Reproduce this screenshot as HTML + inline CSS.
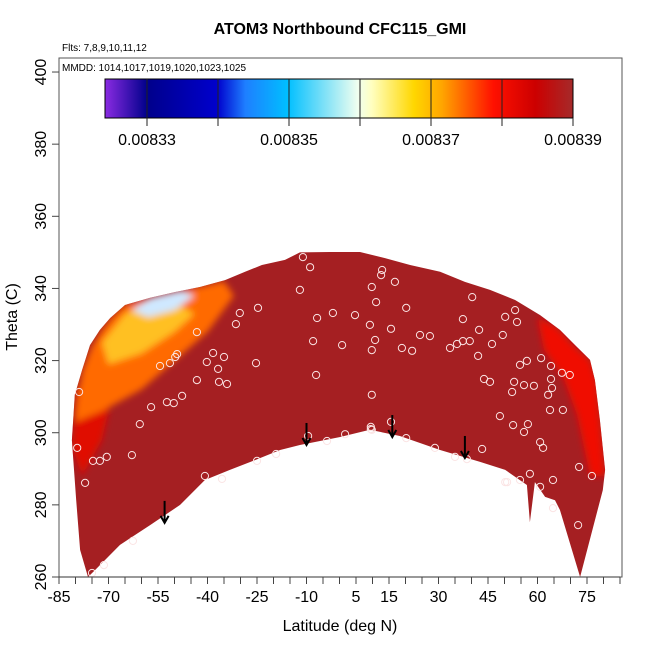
<!DOCTYPE html>
<html><head><meta charset="utf-8">
<style>
html,body{margin:0;padding:0;background:#fff;}
svg{display:block;font-family:"Liberation Sans",Arial,sans-serif;}
</style></head>
<body>
<svg id="chart" width="650" height="650" viewBox="0 0 650 650">
<defs>
<filter id="blur" x="-20%" y="-20%" width="140%" height="140%"><feGaussianBlur stdDeviation="3.5"/></filter>
<clipPath id="fieldClip"><path id="clipPath"/></clipPath>
<linearGradient id="cbGrad" x1="0" x2="1" y1="0" y2="0">
<stop offset="0" stop-color="#8a2be2"/>
<stop offset="0.09" stop-color="#00008b"/>
<stop offset="0.24" stop-color="#0000cd"/>
<stop offset="0.30" stop-color="#1e7fff"/>
<stop offset="0.39" stop-color="#00bfff"/>
<stop offset="0.54" stop-color="#f0fff0"/>
<stop offset="0.57" stop-color="#ffffc0"/>
<stop offset="0.66" stop-color="#ffd700"/>
<stop offset="0.72" stop-color="#ffa500"/>
<stop offset="0.83" stop-color="#ff1000"/>
<stop offset="0.92" stop-color="#cc0000"/>
<stop offset="1" stop-color="#a52a2a"/>
</linearGradient>
</defs>
<text x="340" y="34" text-anchor="middle" font-size="16" font-weight="bold">ATOM3 Northbound CFC115_GMI</text>
<text x="62" y="51" font-size="10">Flts: 7,8,9,10,11,12</text>
<g id="field"></g>
<g id="points"></g>
<g id="arrows"></g>
<rect x="59" y="58" width="563" height="519" fill="none" stroke="#555" stroke-width="1"/>
<text x="62" y="71" font-size="10">MMDD: 1014,1017,1019,1020,1023,1025</text>
<g id="colorbar">
<rect x="105" y="79" width="468" height="39" fill="url(#cbGrad)" stroke="#000" stroke-width="1"/>
</g>
<g id="xaxis"></g>
<g id="yaxis"></g>
<text x="340" y="631" text-anchor="middle" font-size="16">Latitude (deg N)</text>
<text transform="translate(17,317) rotate(-90)" text-anchor="middle" font-size="16">Theta (C)</text>
</svg>
<script>
const xTickLabels=[-85,-70,-55,-40,-25,-10,5,15,30,45,60,75];
const yTickLabels=[260,280,300,320,340,360,380,400];
const cbTickLabels=["0.00833","0.00835","0.00837","0.00839"];
const cbTickValues=[0.00833,0.00835,0.00837,0.00839];
const cbSegValues=[0.00833,0.00834,0.00835,0.00836,0.00837,0.00838];
const outlineLat=[-76.2,-78.6,-79.8,-81.1,-80.2,-78,-75.6,-72.6,-69.5,-65,-57.4,-49.8,-42.3,-34.7,-28.6,-23.5,-16.5,-12,-2.9,6.2,13.8,21.4,30.5,38,45.6,53.2,60.8,66.8,71.4,75.9,77.4,78.9,80.5,79.8,72.9,66.8,65.3,62.3,59.2,57.7,56.8,50.2,42.6,30.5,18.3,9.2,0.2,-12,-18,-25.6,-33.2,-40.8,-48.3,-57.4,-66.5,-74.1];
const outlineTheta=[260,267.5,281.3,297.9,310.5,317.4,324.3,328.5,331.8,335.4,337.4,339,340.4,342.3,344.6,346.5,347.9,350,350.1,350.1,348.4,346.5,344.6,341.8,339.6,336.8,332.6,328.5,324.3,320.2,314.6,303.5,289.7,284.1,260,278.6,281.3,282.2,286.3,275.2,285.5,289.7,291.9,295.2,299.1,300.8,298.8,296.6,295.2,292.4,289.7,286.9,280,274.4,268.9,261.9];
const patchOrangeLat=[-80,-78,-75,-72,-69,-65,-57,-50,-42,-35,-32,-40,-50,-60,-72,-80];
const patchOrangeTheta=[306,317,324,328.5,332,335.5,337.5,339,340.5,342,338,328,320,312,306,303];
const patchYellowLat=[-72,-65,-57,-50,-44,-50,-60,-70];
const patchYellowTheta=[325,333,336,336,333,328,322,319];
const patchBlueLat=[-63,-57,-48,-44,-50,-58];
const patchBlueTheta=[334,337.5,339.5,338,334,332];
const patchRedRLat=[60,66,71,76,78,79,80.5,76,72,68,62];
const patchRedRTheta=[332,329,324,320,314,303,288,288,305,315,323];
const patchRedLLat=[-81,-80,-76,-68,-72,-78];
const patchRedLTheta=[296,311,319,314,298,288];
const pointLat=[-79.5,-77.1,-78.9,-74.7,-72.6,-70.5,-62.9,-60.5,-62.6,-71.4,-75,-40.8,-35.6,-25,-19.2,-9.5,-3.8,1.7,9.5,9.5,9.8,15.6,20.2,28.9,35,38.6,43.2,50.2,50.8,54.7,57.7,60.8,64.7,64.7,72.6,72.3,76.5,61.7,60.8,55.9,57.1,52.6,48.6,52.3,58.9,64.1,67.4,69.8,67.7,63.8,63.2,64.4,64.1,61.1,56.8,54.7,52.9,55.9,45.6,43.8,42,39.5,37.4,37.4,40.2,42.3,46.2,50.2,53.2,53.8,49.5,35.6,33.5,27.4,22,24.4,18.9,15.6,20.2,16.8,12.9,12.6,9.8,9.2,9.8,9.8,10.8,11.1,4.7,0.8,-2,-6.8,-7.1,-8,-8.9,-11.1,-12,-24.7,-25.3,-30.2,-31.4,-35,-36.8,-38.3,-36.5,-40.2,-43.2,-47.7,-49.8,-49.2,-51.4,-52.3,-54.4,-43.2,-34.1,-50.2,-57.1];
const pointTheta=[295.8,286.1,311.3,292.2,292.2,293.3,293.8,302.4,270,263.3,261.1,288,287.2,292.2,294.1,299.1,297.7,299.6,301.6,301,300.8,303,298.5,295.8,293.3,292.7,295.5,286.3,286.3,286.9,288.6,285,279.1,286.9,290.5,274.4,288,295.8,297.4,300.2,302.4,302.1,304.6,311.3,313,314.9,316.6,316,306.3,306.3,310.5,312.4,318.5,320.7,319.9,318.8,314.1,313.2,314.1,314.9,321.3,325.4,325.4,331.5,337.6,328.5,324.6,332.1,334,330.7,327.1,324.6,323.5,326.8,322.7,327.1,323.5,328.8,334.6,341.8,345.1,343.7,340.4,329.9,322.9,310.5,325.7,336.2,332.6,324.3,333.2,331.8,316,325.4,345.9,348.7,339.6,334.6,319.3,333.2,330.1,321,317.7,322.1,314.1,319.6,314.6,310.2,321,321.8,319.3,308.5,318.5,327.9,313.5,308.2,307.1];
const arrowLat=[-53,-10,16,38];
const arrowTheta=[275,296.6,298.8,293];

const NS='http://www.w3.org/2000/svg';
function xs(v){return 59+(v+85)*3.3;}
function ys(v){return 577-(v-260)*3.607;}
function cbx(v){return 147+(v-0.00833)/0.00006*426;}
function mk(tag,attrs,parent){const e=document.createElementNS(NS,tag);for(const k in attrs)e.setAttribute(k,attrs[k]);parent.appendChild(e);return e;}
function poly(lats,ths){return lats.map((l,i)=>xs(l).toFixed(1)+','+ys(ths[i]).toFixed(1)).join(' ');}

const field=document.getElementById('field');
document.getElementById('clipPath').setAttribute('d','M'+poly(outlineLat,outlineTheta)+'Z');
const base=mk('polygon',{points:poly(outlineLat,outlineTheta),fill:'#a51f22'},field);


const pg=mk('g',{'clip-path':'url(#fieldClip)'},field);
const pgi=mk('g',{filter:'url(#blur)'},pg);
const patches=[[patchRedLLat,patchRedLTheta,'#e00a00','patch-left-red'],[patchOrangeLat,patchOrangeTheta,'#ff6a00','patch-orange'],[patchYellowLat,patchYellowTheta,'#ffc020','patch-yellow'],[patchBlueLat,patchBlueTheta,'#cfe8ff','patch-blue'],[patchRedRLat,patchRedRTheta,'#f01000','patch-right-red']];
patches.forEach(p=>{
  const e=mk('polygon',{points:poly(p[0],p[1]),fill:p[2]},pgi);
  
  
});

const pts=document.getElementById('points');
pointLat.forEach((l,i)=>{
  const c=mk('circle',{cx:xs(l).toFixed(1),cy:ys(pointTheta[i]).toFixed(1),r:3.6,fill:'none',stroke:'#fbe4e4','stroke-width':1},pts);
  
  
});

const arr=document.getElementById('arrows');
arrowLat.forEach((l,i)=>{
  const x=xs(l),y=ys(arrowTheta[i]);
  const g=mk('g',{stroke:'#000','stroke-width':2,fill:'none'},arr);
  
  
  mk('line',{x1:x,y1:y-22,x2:x,y2:y},g);
  mk('polyline',{points:(x-4)+','+(y-7)+' '+x+','+y+' '+(x+4)+','+(y-7)},g);
});

const cb=document.getElementById('colorbar');
cbSegValues.forEach(v=>{
  const l=mk('line',{x1:cbx(v),x2:cbx(v),y1:79,y2:126,stroke:'#222','stroke-width':1},cb);
  
  
});
mk('line',{x1:573,x2:573,y1:118,y2:126,stroke:'#222'},cb);
cbTickValues.forEach((v,i)=>{
  const t=mk('text',{x:cbx(v),y:145,'text-anchor':'middle','font-size':16},cb);
  t.textContent=cbTickLabels[i];
  
  
});

const xa=document.getElementById('xaxis');
mk('line',{x1:xs(-85),x2:xs(85),y1:577,y2:577,stroke:'#333'},xa);
for(let v=-85;v<=85;v+=5){
  const l=mk('line',{x1:xs(v),x2:xs(v),y1:577,y2:584,stroke:'#444'},xa);
  
  
}
xTickLabels.forEach(v=>{
  const t=mk('text',{x:xs(v),y:602,'text-anchor':'middle','font-size':16},xa);
  t.textContent=String(v);
  
  
});
const ya=document.getElementById('yaxis');
yTickLabels.forEach(v=>{
  const y=ys(v);
  const l=mk('line',{x1:52,x2:59,y1:y,y2:y,stroke:'#444'},ya);
  
  
  const t=mk('text',{transform:'translate(46,'+y+') rotate(-90)','text-anchor':'middle','font-size':16},ya);
  t.textContent=String(v);
  
  
});
</script>
</body></html>
